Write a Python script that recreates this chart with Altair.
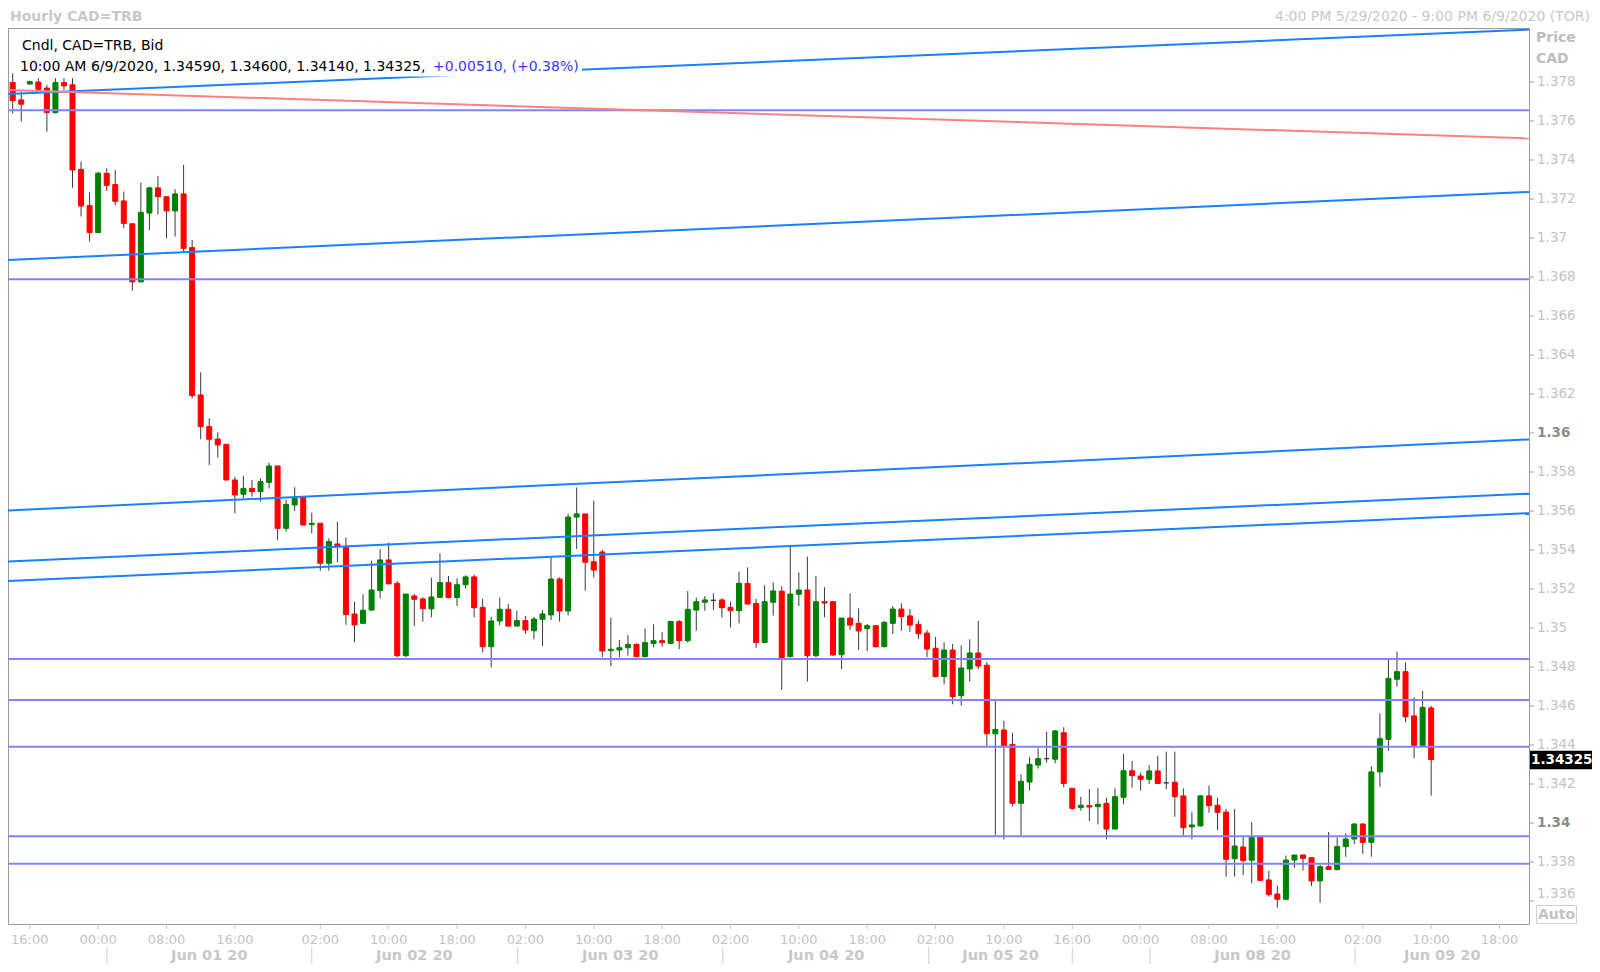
import altair as alt
import pandas as pd

# ---------------- data ----------------
OPEN = [1.37797,1.37708,1.37790,1.37800,1.37769,1.37643,1.37797,1.37786,1.37352,1.37166,
        1.37028,1.37332,1.37274,1.37190,1.37073,1.36775,1.37128,1.37257,1.37212,1.37139,
        1.37226,1.36951,1.36195,1.36033,1.35969,1.35942,1.35759,1.35686,1.35716,1.35699,
        1.35747,1.35831,1.35511,1.35631,1.35669,1.35530,1.35537,1.35332,1.35431,1.35414,
        1.35072,1.35024,1.35092,1.35192,1.35349,1.35229,1.34858,1.35164,1.35149,1.35098,
        1.35157,1.35233,1.35156,1.35222,1.35262,1.35106,1.34904,1.35036,1.35096,1.35010,
        1.35038,1.34986,1.35045,1.35067,1.35251,1.35087,1.35569,1.35585,1.35340,1.35390,
        1.34884,1.34887,1.34899,1.34916,1.34853,1.34921,1.34935,1.34921,1.35033,1.34935,
        1.35092,1.35132,1.35142,1.35144,1.35106,1.35089,1.35229,1.35126,1.34926,1.35132,
        1.35189,1.34853,1.35173,1.35195,1.34858,1.35135,1.35135,1.34863,1.35051,1.35024,
        1.34997,1.35012,1.34904,1.35024,1.35097,1.35062,1.35019,1.34974,1.34896,1.34751,
        1.34887,1.34653,1.34790,1.34872,1.34809,1.34458,1.34477,1.34403,1.34101,1.34210,
        1.34297,1.34330,1.34327,1.34463,1.34178,1.34079,1.34089,1.34084,1.34101,1.33969,
        1.34132,1.34268,1.34241,1.34224,1.34267,1.34206,1.34209,1.34139,1.33980,1.33985,
        1.34139,1.34091,1.34056,1.33817,1.33877,1.33809,1.33927,1.33708,1.33636,1.33609,
        1.33810,1.33836,1.33822,1.33703,1.33776,1.33762,1.33879,1.33918,1.33995,1.33901,
        1.34262,1.34429,1.34737,1.34776,1.34549,1.34398,1.34590]
HIGH = [1.37845,1.37751,1.37807,1.37819,1.37785,1.37819,1.37819,1.37819,1.37392,1.37234,
        1.37339,1.37357,1.37349,1.37238,1.37075,1.37284,1.37263,1.37318,1.37212,1.37250,
        1.37375,1.36990,1.36311,1.36075,1.36004,1.35942,1.35776,1.35780,1.35759,1.35768,
        1.35848,1.35831,1.35657,1.35722,1.35669,1.35592,1.35537,1.35460,1.35545,1.35465,
        1.35135,1.35173,1.35345,1.35404,1.35438,1.35241,1.35174,1.35174,1.35157,1.35258,
        1.35383,1.35267,1.35255,1.35270,1.35275,1.35149,1.35058,1.35156,1.35123,1.35089,
        1.35062,1.35058,1.35092,1.35361,1.35260,1.35586,1.35721,1.35585,1.35653,1.35400,
        1.35053,1.34939,1.34964,1.34921,1.34998,1.35019,1.34978,1.35033,1.35041,1.35190,
        1.35156,1.35164,1.35178,1.35152,1.35135,1.35289,1.35311,1.35149,1.35221,1.35234,
        1.35215,1.35417,1.35285,1.35366,1.35267,1.35209,1.35138,1.35051,1.35178,1.35101,
        1.35020,1.35012,1.35036,1.35113,1.35127,1.35096,1.35039,1.34990,1.34954,1.34927,
        1.34918,1.34911,1.34942,1.35036,1.34827,1.34626,1.34525,1.34463,1.34251,1.34340,
        1.34383,1.34468,1.34477,1.34491,1.34178,1.34135,1.34174,1.34178,1.34130,1.34178,
        1.34354,1.34318,1.34258,1.34297,1.34344,1.34366,1.34366,1.34178,1.34055,1.34144,
        1.34193,1.34130,1.34072,1.34072,1.33930,1.34004,1.33930,1.33754,1.33679,1.33833,
        1.33836,1.33836,1.33822,1.33785,1.33954,1.33926,1.33947,1.33998,1.33998,1.34292,
        1.34562,1.34836,1.34879,1.34824,1.34643,1.34677,1.34600]
LOW = [1.37639,1.37597,1.37786,1.37742,1.37545,1.37639,1.37759,1.37258,1.37110,1.36981,
       1.37028,1.37241,1.37168,1.37050,1.36730,1.36775,1.37041,1.37120,1.36998,1.37007,
       1.36930,1.36178,1.35968,1.35836,1.35875,1.35756,1.35588,1.35665,1.35674,1.35648,
       1.35716,1.35451,1.35494,1.35600,1.35528,1.35486,1.35294,1.35294,1.35337,1.35016,
       1.34927,1.35021,1.35089,1.35152,1.35226,1.34850,1.34850,1.35010,1.35033,1.35055,
       1.35157,1.35152,1.35113,1.35202,1.35055,1.34875,1.34798,1.35014,1.35007,1.35007,
       1.34969,1.34942,1.34908,1.35041,1.35033,1.35065,1.35405,1.35191,1.35260,1.34850,
       1.34805,1.34850,1.34858,1.34850,1.34850,1.34901,1.34904,1.34921,1.34892,1.34925,
       1.34986,1.35089,1.35092,1.35053,1.35003,1.35024,1.35123,1.34899,1.34926,1.35063,
       1.34682,1.34850,1.35113,1.34725,1.34850,1.35055,1.34856,1.34790,1.34990,1.34887,
       1.34882,1.34901,1.34901,1.34969,1.34986,1.34981,1.34944,1.34850,1.34747,1.34711,
       1.34609,1.34602,1.34725,1.34790,1.34395,1.33938,1.33916,1.34084,1.33938,1.34166,
       1.34279,1.34309,1.34306,1.34183,1.34067,1.34063,1.34010,1.33993,1.33916,1.33969,
       1.34096,1.34181,1.34166,1.34200,1.34203,1.34173,1.34032,1.33939,1.33916,1.33981,
       1.34053,1.33964,1.33725,1.33725,1.33733,1.33691,1.33706,1.33622,1.33566,1.33605,
       1.33771,1.33756,1.33677,1.33591,1.33762,1.33756,1.33827,1.33892,1.33841,1.33827,
       1.34186,1.34371,1.34699,1.34516,1.34332,1.34398,1.34140]
CLOSE = [1.37704,1.37686,1.37802,1.37763,1.37643,1.37797,1.37780,1.37349,1.37164,1.37028,
         1.37332,1.37270,1.37188,1.37075,1.36775,1.37132,1.37257,1.37212,1.37139,1.37226,
         1.36947,1.36192,1.36033,1.35968,1.35939,1.35759,1.35682,1.35716,1.35699,1.35751,
         1.35831,1.35511,1.35634,1.35665,1.35528,1.35537,1.35332,1.35443,1.35417,1.35069,
         1.35016,1.35091,1.35195,1.35349,1.35226,1.34858,1.35174,1.35147,1.35099,1.35159,
         1.35233,1.35157,1.35222,1.35262,1.35104,1.34904,1.35036,1.35096,1.35010,1.35038,
         1.34990,1.35046,1.35072,1.35251,1.35087,1.35569,1.35585,1.35337,1.35297,1.34882,
         1.34891,1.34899,1.34916,1.34853,1.34925,1.34935,1.34925,1.35033,1.34935,1.35096,
         1.35135,1.35144,1.35142,1.35104,1.35089,1.35229,1.35123,1.34926,1.35135,1.35190,
         1.34848,1.35174,1.35195,1.34858,1.35135,1.35128,1.34862,1.35051,1.35015,1.34985,
         1.35012,1.34904,1.35029,1.35097,1.35058,1.35015,1.34971,1.34892,1.34751,1.34887,
         1.34648,1.34795,1.34872,1.34805,1.34458,1.34480,1.34397,1.34101,1.34214,1.34301,
         1.34330,1.34330,1.34472,1.34203,1.34075,1.34091,1.34082,1.34096,1.33969,1.34135,
         1.34268,1.34243,1.34224,1.34267,1.34203,1.34206,1.34135,1.33976,1.33990,1.34139,
         1.34089,1.34055,1.33814,1.33882,1.33807,1.33927,1.33706,1.33634,1.33609,1.33810,
         1.33836,1.33819,1.33703,1.33776,1.33762,1.33879,1.33918,1.33995,1.33901,1.34262,
         1.34432,1.34742,1.34776,1.34545,1.34398,1.34593,1.34325]

# horizontal support / resistance levels
H_LEVELS = [1.37655, 1.36788, 1.34841, 1.34631, 1.34391, 1.33932, 1.33791]
# rising channel lines: price at left edge / right edge of the plot
CHANNEL_START = [1.37738, 1.36887, 1.35603, 1.35341, 1.35241]
CHANNEL_END = [1.38069, 1.37236, 1.35967, 1.35689, 1.35589]
# falling red trend line
RED_START, RED_END = 1.37759, 1.37511

# right price axis
Y_TICKS = [1.336, 1.338, 1.340, 1.342, 1.344, 1.346, 1.348, 1.350, 1.352, 1.354, 1.356,
           1.358, 1.360, 1.362, 1.364, 1.366, 1.368, 1.370, 1.372, 1.374, 1.376, 1.378]
Y_LABELS = ["1.336", "1.338", "1.34", "1.342", "1.344", "1.346", "1.348", "1.35", "1.352",
            "1.354", "1.356", "1.358", "1.36", "1.362", "1.364", "1.366", "1.368", "1.37",
            "1.372", "1.374", "1.376", "1.378"]
Y_BOLD = ["1.34", "1.36"]

# time axis (candle index positions)
X_TICK_POS = [2, 10, 18, 26, 36, 44, 52, 60, 68, 76, 84, 92, 100, 108, 116, 124, 132, 140,
              148, 158, 166, 174]
X_TICK_LABELS = ["16:00", "00:00", "08:00", "16:00", "02:00", "10:00", "18:00", "02:00",
                 "10:00", "18:00", "02:00", "10:00", "18:00", "02:00", "10:00", "16:00",
                 "00:00", "08:00", "16:00", "02:00", "10:00", "18:00"]
DAY_SEP_POS = [11.03, 35.0, 59.1, 83.1, 107.2, 124.0, 133.1, 157.1]
DAY_LABEL_POS = [23.0, 47.0, 71.1, 95.2, 115.6, 145.1, 167.3]
DAY_LABELS = ["Jun 01 20", "Jun 02 20", "Jun 03 20", "Jun 04 20", "Jun 05 20",
              "Jun 08 20", "Jun 09 20"]

X_DOMAIN = [-0.55, 177.45]
Y_DOMAIN = [1.334821, 1.380769]

# ---------------- tables ----------------
def direction(o, c):
    if c > o:
        return "up"
    if c < o:
        return "down"
    return "flat"

candles = pd.DataFrame({
    "i": list(range(len(OPEN))),
    "open": OPEN, "high": HIGH, "low": LOW, "close": CLOSE,
})
candles["dir"] = [direction(o, c) for o, c in zip(OPEN, CLOSE)]

rows = []
for k, lv in enumerate(H_LEVELS):
    rows += [{"name": f"h{k}", "kind": "level", "i": X_DOMAIN[0], "p": lv},
             {"name": f"h{k}", "kind": "level", "i": X_DOMAIN[1], "p": lv}]
for k, (a, b) in enumerate(zip(CHANNEL_START, CHANNEL_END)):
    rows += [{"name": f"c{k}", "kind": "channel", "i": X_DOMAIN[0], "p": a},
             {"name": f"c{k}", "kind": "channel", "i": X_DOMAIN[1], "p": b}]
rows += [{"name": "red", "kind": "trend", "i": X_DOMAIN[0], "p": RED_START},
         {"name": "red", "kind": "trend", "i": X_DOMAIN[1], "p": RED_END}]
lines = pd.DataFrame(rows)

yticks = pd.DataFrame({"t": Y_TICKS, "lab": Y_LABELS})
yticks["bold"] = yticks["lab"].isin(Y_BOLD)
xticks = pd.DataFrame({"i": X_TICK_POS, "lab": X_TICK_LABELS})
days = pd.DataFrame({"i": DAY_LABEL_POS, "lab": DAY_LABELS})
seps = pd.DataFrame({"i": DAY_SEP_POS})
last = pd.DataFrame({"p": [CLOSE[-1]], "lab": [f"{CLOSE[-1]:.5f}"]})

FONT = "DejaVu Sans"
GRAY = "#c3c3c3"
xs = alt.Scale(domain=X_DOMAIN, zero=False, nice=False, padding=0)
ys = alt.Scale(domain=Y_DOMAIN, zero=False, nice=False, padding=0)
X = lambda f: alt.X(f, type="quantitative", scale=xs, axis=None)
Y = lambda f: alt.Y(f, type="quantitative", scale=ys, axis=None)
dir_scale = alt.Scale(domain=["up", "down", "flat"], range=["#008000", "#ff0000", "#3a3a3a"])

wicks = alt.Chart(candles).mark_rule(color="#3a3a3a", strokeWidth=1).encode(
    x=X("i"), y=Y("low"), y2="high:Q")
bodies = alt.Chart(candles).mark_bar(size=5, strokeWidth=1).encode(
    x=X("i"), y=Y("open"), y2="close:Q",
    color=alt.Color("dir:N", scale=dir_scale, legend=None),
    stroke=alt.Stroke("dir:N", scale=dir_scale, legend=None))


def line_layer(kind, colour):
    return alt.Chart(lines).transform_filter(f"datum.kind == '{kind}'").mark_line(
        strokeWidth=2, clip=True, color=colour).encode(
        x=X("i"), y=Y("p"), detail="name:N")


levels = line_layer("level", "#8282ff")
channels = line_layer("channel", "#1a80ff")
redline = line_layer("trend", "#ff8080")


def txt(s, px, py, size=14, color="black", weight="normal", align="left"):
    return alt.Chart(pd.DataFrame({"s": [s]})).mark_text(
        font=FONT, fontSize=size, color=color, fontWeight=weight, align=align,
        baseline="middle").encode(x=alt.value(px), y=alt.value(py), text="s:N")


def box(x1, x2, y1, y2, fill, stroke=None):
    kw = {"fill": fill}
    if stroke:
        kw.update(stroke=stroke, strokeWidth=1)
    return alt.Chart(pd.DataFrame({"a": [0]})).mark_rect(**kw).encode(
        x=alt.value(x1), x2=alt.value(x2), y=alt.value(y1), y2=alt.value(y2))


legend_bg = box(10, 574, 30, 48.5, "white")
legend1 = txt("Cndl, CAD=TRB, Bid", 14, 18)
legend2a = txt("10:00 AM 6/9/2020, 1.34590, 1.34600, 1.34140, 1.34325,", 12, 39)
legend2b = txt("+0.00510, (+0.38%)", 425, 39, color="#3838ff")

title_l = txt("Hourly CAD=TRB", 2, -11, size=14, color="#c8c8c8", weight="bold")
title_r = txt("4:00 PM 5/29/2020 - 9:00 PM 6/9/2020 (TOR)", 1582, -11, size=14,
              color="#c8c8c8", align="right")

price_t = txt("Price", 1528, 10, size=14, color="#bdbdbd", weight="bold")
cad_t = txt("CAD", 1528, 31, size=14, color="#bdbdbd", weight="bold")

ytick_marks = alt.Chart(yticks).mark_rule(color="#a0a0a0").encode(
    x=alt.value(1521), x2=alt.value(1526), y=Y("t"))
ylab_norm = alt.Chart(yticks).transform_filter(
    "!datum.bold && datum.t > 1.337").mark_text(
    font=FONT, fontSize=13.5, color=GRAY, align="left", baseline="middle").encode(
    x=alt.value(1529), y=Y("t"), text="lab:N")
ylab_low = alt.Chart(yticks).transform_filter("datum.t < 1.337").mark_text(
    font=FONT, fontSize=13.5, color=GRAY, align="left", baseline="middle", dy=-7).encode(
    x=alt.value(1529), y=Y("t"), text="lab:N")
ylab_bold = alt.Chart(yticks).transform_filter("datum.bold").mark_text(
    font=FONT, fontSize=13.5, color="#8c8c8c", fontWeight="bold", align="left",
    baseline="middle").encode(x=alt.value(1529), y=Y("t"), text="lab:N")

last_box = alt.Chart(last).mark_rect(color="black", yOffset=-9, y2Offset=9.5).encode(
    x=alt.value(1522), x2=alt.value(1590), y=Y("p"), y2="p:Q")
last_txt = alt.Chart(last).mark_text(
    font=FONT, fontSize=13.5, fontWeight="bold", color="white", align="left",
    baseline="middle").encode(x=alt.value(1523), y=Y("p"), text="lab:N")

auto_box = box(1528.5, 1568.5, 877.5, 895.5, "white", stroke="#d0d0d0")
auto_txt = txt("Auto", 1548.5, 886.5, size=14, color="#c3c3c3", weight="bold",
               align="center")

xtick_marks = alt.Chart(xticks).mark_rule(color="#c8c8c8").encode(
    x=X("i"), y=alt.value(896), y2=alt.value(901))
xlabels = alt.Chart(xticks).mark_text(
    font=FONT, fontSize=13, color=GRAY, align="center", baseline="middle").encode(
    x=X("i"), y=alt.value(912), text="lab:N")
sep_marks = alt.Chart(seps).mark_rule(color="#cfcfcf").encode(
    x=X("i"), y=alt.value(919), y2=alt.value(936))
daylabels = alt.Chart(days).mark_text(
    font=FONT, fontSize=14.5, fontWeight="bold", color="#c8c8c8", align="center",
    baseline="middle").encode(x=X("i"), y=alt.value(928), text="lab:N")

chart = alt.layer(
    wicks, bodies, levels, channels, redline, legend_bg, legend1, legend2a, legend2b,
    title_l, title_r, price_t, cad_t, ytick_marks, ylab_norm, ylab_low, ylab_bold,
    last_box, last_txt, auto_box, auto_txt, xtick_marks, xlabels, sep_marks, daylabels,
).properties(
    width=1521, height=896,
    autosize=alt.AutoSizeParams(type="none"),
    padding={"left": 0, "top": 20, "right": 63, "bottom": 40},
    background="white",
).configure_view(stroke="#9a9a9a", strokeWidth=1)

chart.save("out.html", embed_options={"renderer": "svg", "actions": False})
